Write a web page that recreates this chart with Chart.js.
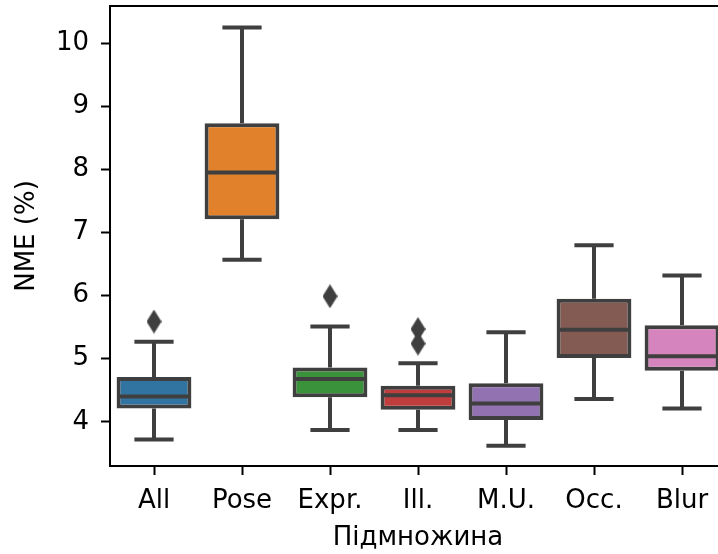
<!DOCTYPE html>
<html>
<head>
<meta charset="utf-8">
<script src="https://cdn.jsdelivr.net/npm/chart.js@4/dist/chart.umd.min.js"></script>
<style>
  html, body { margin: 0; padding: 0; background: #fff; overflow: hidden; }
  #wrap { width: 718px; height: 554px; overflow: hidden; }
  canvas { display: block; margin-top: -7px; }
</style>
</head>
<body>
<div id="wrap"><canvas id="c" width="740" height="561"></canvas></div>
<script>
// ---- data ----
const categories  = ['All', 'Pose', 'Expr.', 'Ill.', 'M.U.', 'Occ.', 'Blur'];
const whiskerLow  = [3.72, 6.57, 3.87, 3.87, 3.62, 4.36, 4.21];
const q1          = [4.21, 7.21, 4.39, 4.19, 4.03, 5.01, 4.81];
const medians     = [4.40, 7.95, 4.68, 4.42, 4.29, 5.46, 5.04];
const q3          = [4.71, 8.73, 4.86, 4.57, 4.61, 5.95, 5.53];
const whiskerHigh = [5.27, 10.25, 5.51, 4.93, 5.42, 6.80, 6.32];
const outlierCats = ['All', 'Expr.', 'Ill.', 'Ill.'];
const outlierVals = [5.59, 5.99, 5.47, 5.24];
const yTicks      = [4, 5, 6, 7, 8, 9, 10];
const boxColors   = ['#3274a1', '#e1812c', '#3a923a', '#c03d3e', '#9372b2', '#845b53', '#d684bd'];
const xTitle = 'Підмножина';
const yTitle = 'NME (%)';

const LINE = '#3f3f3f';
const LW = 4;
Chart.defaults.font.family = "'DejaVu Sans'";
Chart.defaults.color = '#000';

// thin diamond marker (matplotlib 'd')
function diamond(w, h) {
  const cv = document.createElement('canvas');
  cv.width = w; cv.height = h;
  const g = cv.getContext('2d');
  g.fillStyle = LINE;
  g.beginPath();
  g.moveTo(w / 2, 0); g.lineTo(w, h / 2); g.lineTo(w / 2, h); g.lineTo(0, h / 2);
  g.closePath(); g.fill();
  return cv;
}

const boxPlugin = {
  id: 'boxParts',
  beforeDatasetsDraw(chart) {
    const ctx = chart.ctx, x = chart.scales.x, y = chart.scales.y;
    const step = x.getPixelForValue(1) - x.getPixelForValue(0);
    ctx.save();
    ctx.strokeStyle = LINE;
    ctx.lineWidth = LW;
    categories.forEach((c, i) => {
      const cx = x.getPixelForValue(i);
      ctx.lineCap = 'butt';
      ctx.beginPath();
      ctx.moveTo(cx, y.getPixelForValue(q1[i])); ctx.lineTo(cx, y.getPixelForValue(whiskerLow[i]));
      ctx.moveTo(cx, y.getPixelForValue(q3[i])); ctx.lineTo(cx, y.getPixelForValue(whiskerHigh[i]));
      ctx.stroke();
      ctx.lineCap = 'square';
      ctx.beginPath();
      const hw = step * 0.2;
      [whiskerLow[i], whiskerHigh[i]].forEach(v => {
        const py = y.getPixelForValue(v);
        ctx.moveTo(cx - hw, py); ctx.lineTo(cx + hw, py);
      });
      ctx.stroke();
    });
    ctx.restore();
  },
  afterDatasetsDraw(chart) {
    const ctx = chart.ctx, x = chart.scales.x, y = chart.scales.y;
    const step = x.getPixelForValue(1) - x.getPixelForValue(0);
    ctx.save();
    ctx.strokeStyle = LINE;
    ctx.lineWidth = LW;
    categories.forEach((c, i) => {
      const cx = x.getPixelForValue(i);
      const py = y.getPixelForValue(medians[i]);
      const hw = step * 0.42;
      ctx.beginPath(); ctx.moveTo(cx - hw, py); ctx.lineTo(cx + hw, py); ctx.stroke();
    });
    // top and right spines
    const a = chart.chartArea;
    ctx.strokeStyle = '#000';
    ctx.lineWidth = 2;
    ctx.beginPath();
    ctx.moveTo(a.left - 1, a.top); ctx.lineTo(a.right, a.top); ctx.lineTo(a.right, a.bottom);
    ctx.stroke();
    ctx.restore();
  }
};

new Chart(document.getElementById('c'), {
  type: 'bar',
  data: {
    labels: categories,
    datasets: [
      {
        type: 'bar',
        data: categories.map((c, i) => [q1[i], q3[i]]),
        backgroundColor: boxColors,
        borderColor: LINE,
        borderWidth: 4,
        borderSkipped: false,
        barPercentage: 0.85,
        categoryPercentage: 1.0,
        order: 2
      },
      {
        type: 'line',
        data: outlierCats.map((c, i) => ({ x: c, y: outlierVals[i] })),
        showLine: false,
        pointStyle: diamond(15, 24),
        pointRadius: 12,
        order: 1
      }
    ]
  },
  options: {
    responsive: false,
    animation: false,
    devicePixelRatio: 1,
    layout: { padding: { top: 0, right: 14, left: 0, bottom: 0 } },
    plugins: { legend: { display: false }, tooltip: { enabled: false } },
    scales: {
      x: {
        offset: true,
        grid: { display: true, offset: false, drawOnChartArea: false, drawTicks: true, tickLength: 9, tickWidth: 2, tickColor: '#000' },
        border: { display: true, color: '#000', width: 2 },
        ticks: { font: { size: 26 }, color: '#000', padding: 11, maxRotation: 0, autoSkip: false },
        title: { display: true, text: xTitle, font: { size: 26 }, color: '#000', padding: 0 },
        afterFit(s) { s.height = 88; s.paddingLeft = 0; s.paddingRight = 0; }
      },
      y: {
        min: 3.30,
        max: 10.59,
        grid: { display: true, drawOnChartArea: false, drawTicks: true, tickLength: 9, tickWidth: 2, tickColor: '#000' },
        border: { display: true, color: '#000', width: 2 },
        ticks: { font: { size: 26 }, color: '#000', padding: 12 },
        title: { display: true, text: yTitle, font: { size: 26 }, color: '#000', padding: { top: 12, bottom: 0 } },
        afterBuildTicks(s) { s.ticks = yTicks.map(v => ({ value: v })); },
        afterFit(s) { s.width = 110; s.paddingTop = 0; s.paddingBottom = 0; }
      }
    }
  },
  plugins: [boxPlugin]
});
</script>
</body>
</html>
